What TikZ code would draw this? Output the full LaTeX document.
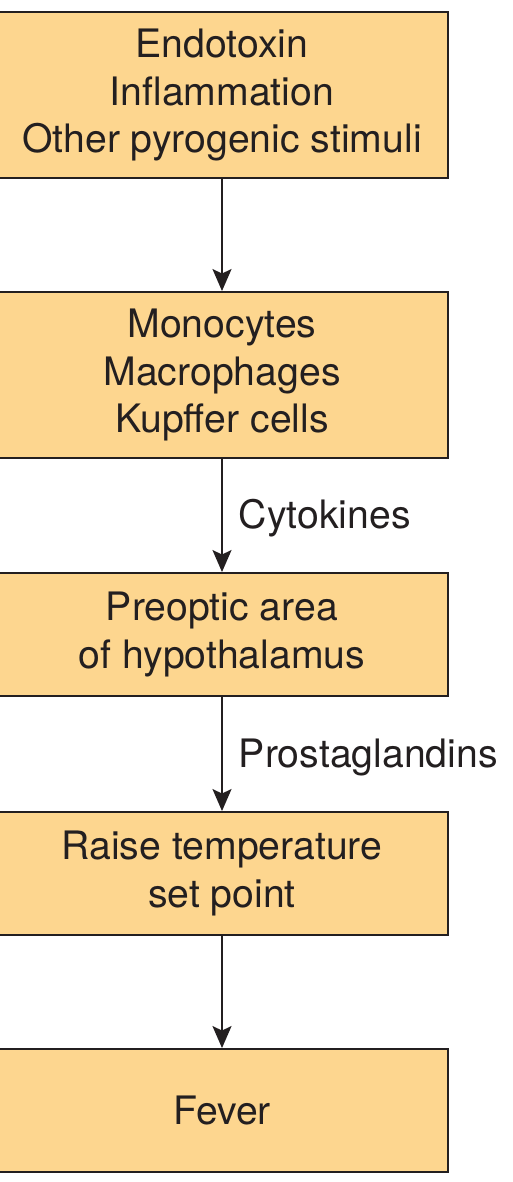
\documentclass[tikz,border=0pt]{standalone}
\usepackage{fontspec}
\setmainfont{TeX Gyre Heros}
\usetikzlibrary{arrows.meta}
\definecolor{boxfill}{HTML}{FDD68F}
\definecolor{ink}{HTML}{231F20}
\tikzset{
  box/.style={draw=ink,fill=boxfill,line width=1.1pt,minimum width=9.04cm,
    align=center,text=ink,font=\fontsize{22.3}{27.3}\selectfont},
  tall/.style={minimum height=3.32cm},
  short/.style={minimum height=2.46cm},
  flow/.style={draw=ink,line width=1.1pt,-{Stealth[length=0.44cm,width=0.38cm,inset=0.09cm]}},
  lbl/.style={text=ink,font=\fontsize{22.3}{27.3}\selectfont,right,inner sep=0pt,xshift=0.32cm,yshift=-0.06cm}
}
\begin{document}
\begin{tikzpicture}[x=0.02cm,y=-0.02cm]
      \useasboundingbox (0,0) rectangle (513,1182);
      \draw
        (222,95) node[box,tall] (stim){Endotoxin\\Inflammation\\Other pyrogenic stimuli}
        (222,375) node[box,tall] (cells){Monocytes\\Macrophages\\Kupffer cells}
        (222,634.5) node[box,short] (poa){Preoptic area\\of hypothalamus}
        (222,873.5) node[box,short] (setpt){Raise temperature\\set point}
        (222,1110.5) node[box,short] (fever){Fever};
      \begin{scope}[flow]
        \draw (stim) to (cells);
        \draw (cells) to node[lbl]{Cytokines} (poa);
        \draw (poa) to node[lbl]{Prostaglandins} (setpt);
        \draw (setpt) to (fever);
      \end{scope}
    \end{tikzpicture}
\end{document}
